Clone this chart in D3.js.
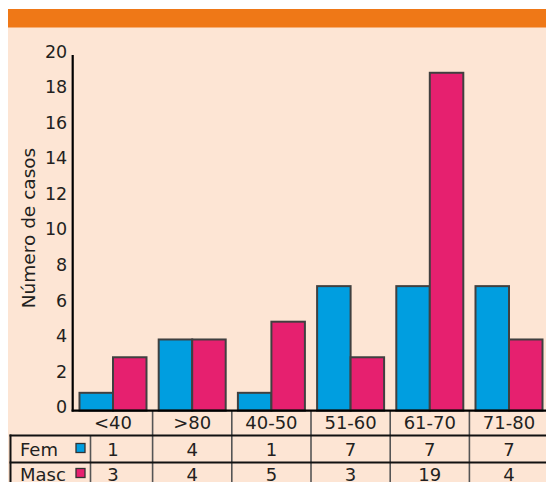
<!DOCTYPE html>
<html>
<head>
<meta charset="utf-8">
<script src="https://cdn.jsdelivr.net/npm/d3@7"></script>
<style>
  html, body { margin: 0; padding: 0; background: #ffffff; }
  svg { display: block; }
  text { font-family: "DejaVu Sans", sans-serif; fill: #231f20; }
</style>
</head>
<body>
<svg id="chart" width="546" height="482"></svg>
<script>
// Age groups and case counts by sex
const categories = ["<40", ">80", "40-50", "51-60", "61-70", "71-80"];
const fem = [1, 4, 1, 7, 7, 7];
const masc = [3, 4, 5, 3, 19, 4];
const seriesNames = ["Fem", "Masc"];
const yTicks = [0, 2, 4, 6, 8, 10, 12, 14, 16, 18, 20];

const colors = { Fem: "#009ee0", Masc: "#e6206f" };
const W = 546, H = 482;
const FONT = "DejaVu Sans, sans-serif";
const svg = d3.select("#chart");

// Panel background and header band
svg.append("rect").attr("x", 8).attr("y", 27).attr("width", W - 8).attr("height", H - 27).attr("fill", "#fde5d4");
svg.append("rect").attr("x", 8).attr("y", 9).attr("width", W - 8).attr("height", 18.5).attr("fill", "#ef7817");

const x = d3.scaleBand().domain(categories).range([73.4, 548.6]).paddingInner(0.154).paddingOuter(0.077);
const xs = d3.scaleBand().domain(seriesNames).range([0, x.bandwidth()]);
const y = d3.scaleLinear().domain([0, 20]).range([410.6, 55]);

const baseY = y(0);
const rowTop1 = 435.5, rowTop2 = 462.5;

// Bars
const rows = categories.map((c, i) => ({ cat: c, Fem: fem[i], Masc: masc[i] }));
const g = svg.append("g");
rows.forEach(r => {
  seriesNames.forEach(s => {
    g.append("rect")
      .attr("x", x(r.cat) + xs(s))
      .attr("y", y(r[s]))
      .attr("width", xs.bandwidth())
      .attr("height", baseY - y(r[s]))
      .attr("fill", colors[s])
      .attr("stroke", "#404040")
      .attr("stroke-width", 2);
  });
});

// Y axis: line and labels, no tick marks
const yAxis = d3.axisLeft(y).tickValues(yTicks).tickSize(0).tickPadding(5.5);
const ya = svg.append("g").attr("transform", "translate(72.7,0)").call(yAxis);
ya.select(".domain").remove();
ya.selectAll("text").attr("font-size", 17.5).attr("font-family", FONT)
  .attr("fill", "#231f20").attr("dy", "0.12em");
svg.append("line").attr("x1", 72.7).attr("x2", 72.7).attr("y1", y(20)).attr("y2", baseY + 1)
  .attr("stroke", "#000").attr("stroke-width", 2.2);

// Axis title
svg.append("text")
  .attr("transform", `translate(34.5,228) rotate(-90)`)
  .attr("text-anchor", "middle")
  .attr("font-size", 18.5)
  .text("Número de casos");

// Table grid: column dividers between groups
const step = x.step();
const dividers = categories.slice(1).map(c => x(c) - (step - x.bandwidth()) / 2);
dividers.forEach(d => {
  svg.append("line").attr("x1", d).attr("x2", d).attr("y1", baseY).attr("y2", H)
    .attr("stroke", "#555").attr("stroke-width", 1.6);
});
svg.append("line").attr("x1", 90.5).attr("x2", 90.5).attr("y1", rowTop1).attr("y2", H)
  .attr("stroke", "#555").attr("stroke-width", 1.6);
svg.append("line").attr("x1", 10.5).attr("x2", 10.5).attr("y1", rowTop1 - 1).attr("y2", H)
  .attr("stroke", "#111").attr("stroke-width", 2);
[rowTop1, rowTop2].forEach(yy => {
  svg.append("line").attr("x1", 9.5).attr("x2", W).attr("y1", yy).attr("y2", yy)
    .attr("stroke", "#111").attr("stroke-width", 2);
});
// Baseline
svg.append("line").attr("x1", 71.6).attr("x2", W).attr("y1", baseY).attr("y2", baseY)
  .attr("stroke", "#000").attr("stroke-width", 2.4);

// Category labels
svg.selectAll(".cat").data(categories).join("text")
  .attr("x", d => x(d) + x.bandwidth() / 2)
  .attr("y", 422.5)
  .attr("dy", "0.36em")
  .attr("text-anchor", "middle")
  .attr("font-size", 18)
  .text(d => d);

// Value rows
const valueRows = [
  { name: "Fem", vals: fem, cy: 450 },
  { name: "Masc", vals: masc, cy: 475 }
];
valueRows.forEach(r => {
  svg.append("text").attr("x", 20).attr("y", r.cy).attr("dy", "0.36em")
    .attr("font-size", 18).text(r.name);
  svg.append("rect").attr("x", 76).attr("y", r.cy - 6.5).attr("width", 9).attr("height", 9)
    .attr("fill", colors[r.name]).attr("stroke", "#333").attr("stroke-width", 1.3);
  svg.selectAll(null).data(r.vals).join("text")
    .attr("x", (d, i) => x(categories[i]) + x.bandwidth() / 2)
    .attr("y", r.cy)
    .attr("dy", "0.36em")
    .attr("text-anchor", "middle")
    .attr("font-size", 18)
    .text(d => d);
});
</script>
</body>
</html>
